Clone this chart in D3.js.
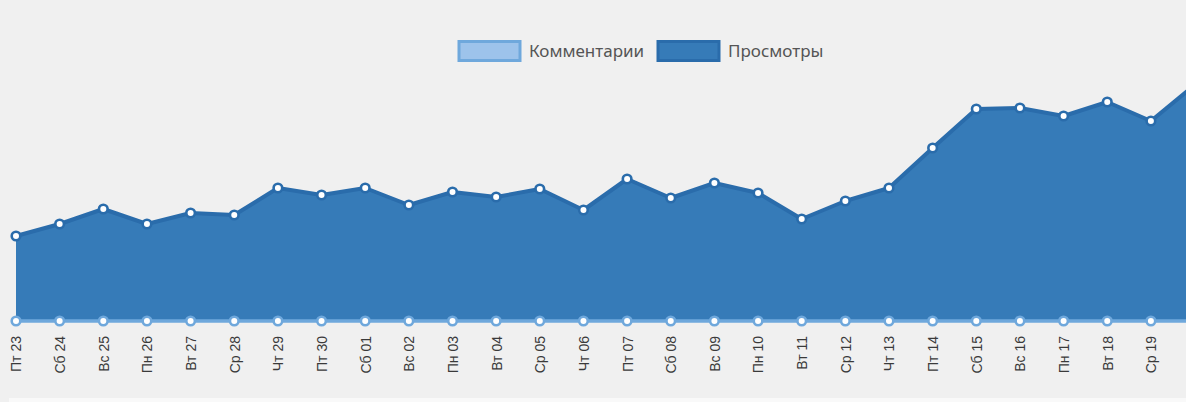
<!DOCTYPE html>
<html><head><meta charset="utf-8">
<script src="https://cdn.jsdelivr.net/npm/d3@7"></script>
<style>
html,body{margin:0;padding:0;background:#f0f0f0;overflow:hidden;}
svg{display:block;}
</style></head>
<body>
<script>
const categories = ["Пт 23","Сб 24","Вс 25","Пн 26","Вт 27","Ср 28","Чт 29","Пт 30","Сб 01","Вс 02","Пн 03","Вт 04","Ср 05","Чт 06","Пт 07","Сб 08","Вс 09","Пн 10","Вт 11","Ср 12","Чт 13","Пт 14","Сб 15","Вс 16","Пн 17","Вт 18","Ср 19","Чт 20"];
const views = [85,97,112,97,108,106,133,126,133,116,129,124,132,111,142,123,138,128,102,120,133,173,212,213,205,219,200,236];
const comments = [0,0,0,0,0,0,0,0,0,0,0,0,0,0,0,0,0,0,0,0,0,0,0,0,0,0,0,0];
const seriesNames = ["Комментарии","Просмотры"];

const W = 1186, H = 402;
const svg = d3.select("body").append("svg").attr("width", W).attr("height", H);

// bottom lighter strip
svg.append("rect").attr("x", 9).attr("y", 398).attr("width", W).attr("height", 4).attr("fill", "#f9f9f9");

const x = d3.scalePoint().domain(categories).range([16, 16 + 43.65 * (categories.length - 1)]);
const y = d3.scaleLinear().domain([0, 240]).range([321, 81]);

const viewFill = "#367bb8", viewLine = "#2a6cab";
const comFill = "#9dc3eb", comLine = "#6fa8dc";

const area = d3.area().x((d, i) => x(categories[i])).y0(y(0)).y1(d => y(d));
const line = d3.line().x((d, i) => x(categories[i])).y(d => y(d));

svg.append("path").datum(views).attr("d", area).attr("fill", viewFill);
svg.append("path").datum(views).attr("d", line).attr("fill", "none").attr("stroke", viewLine).attr("stroke-width", 4).attr("stroke-linejoin", "round");
svg.append("g").selectAll("circle").data(views).join("circle")
  .attr("cx", (d, i) => x(categories[i])).attr("cy", d => y(d)).attr("r", 4.3)
  .attr("fill", "#fff").attr("stroke", viewLine).attr("stroke-width", 2.6);

svg.append("path").datum(comments).attr("d", line).attr("fill", "none").attr("stroke", comLine).attr("stroke-width", 3.5);
svg.append("g").selectAll("circle").data(comments).join("circle")
  .attr("cx", (d, i) => x(categories[i])).attr("cy", d => y(d)).attr("r", 4.3)
  .attr("fill", "#fff").attr("stroke", comLine).attr("stroke-width", 2.6);

// x axis labels (last category lies beyond the visible area, as in the reference)
const visibleTicks = categories.filter(c => x(c) < W - 10);
const xAxis = d3.axisBottom(x).tickValues(visibleTicks).tickSize(0).tickPadding(0);
const gx = svg.append("g").attr("transform", "translate(0,336)").call(xAxis);
gx.select(".domain").remove();
gx.selectAll("text")
  .attr("font-family", "'Liberation Sans', Arial, sans-serif").attr("font-size", 14).attr("fill", "#3a3a3a")
  .attr("text-anchor", "end").attr("y", 0).attr("x", 0)
  .attr("transform", "rotate(-90)").attr("dx", 0).attr("dy", "0.35em");

// legend
const legend = svg.append("g");
const legendItems = [
  {name: seriesNames[0], fill: comFill, stroke: comLine, x: 459, tx: 529},
  {name: seriesNames[1], fill: viewFill, stroke: viewLine, x: 658, tx: 728}
];
legendItems.forEach(it => {
  legend.append("rect").attr("x", it.x).attr("y", 41.5).attr("width", 61).attr("height", 19)
    .attr("fill", it.fill).attr("stroke", it.stroke).attr("stroke-width", 3);
  legend.append("text").attr("x", it.tx).attr("y", 56.5).text(it.name)
    .attr("font-family", "'Noto Sans', 'Open Sans', sans-serif").attr("font-size", 17).attr("fill", "#555");
});
</script>
</body></html>
